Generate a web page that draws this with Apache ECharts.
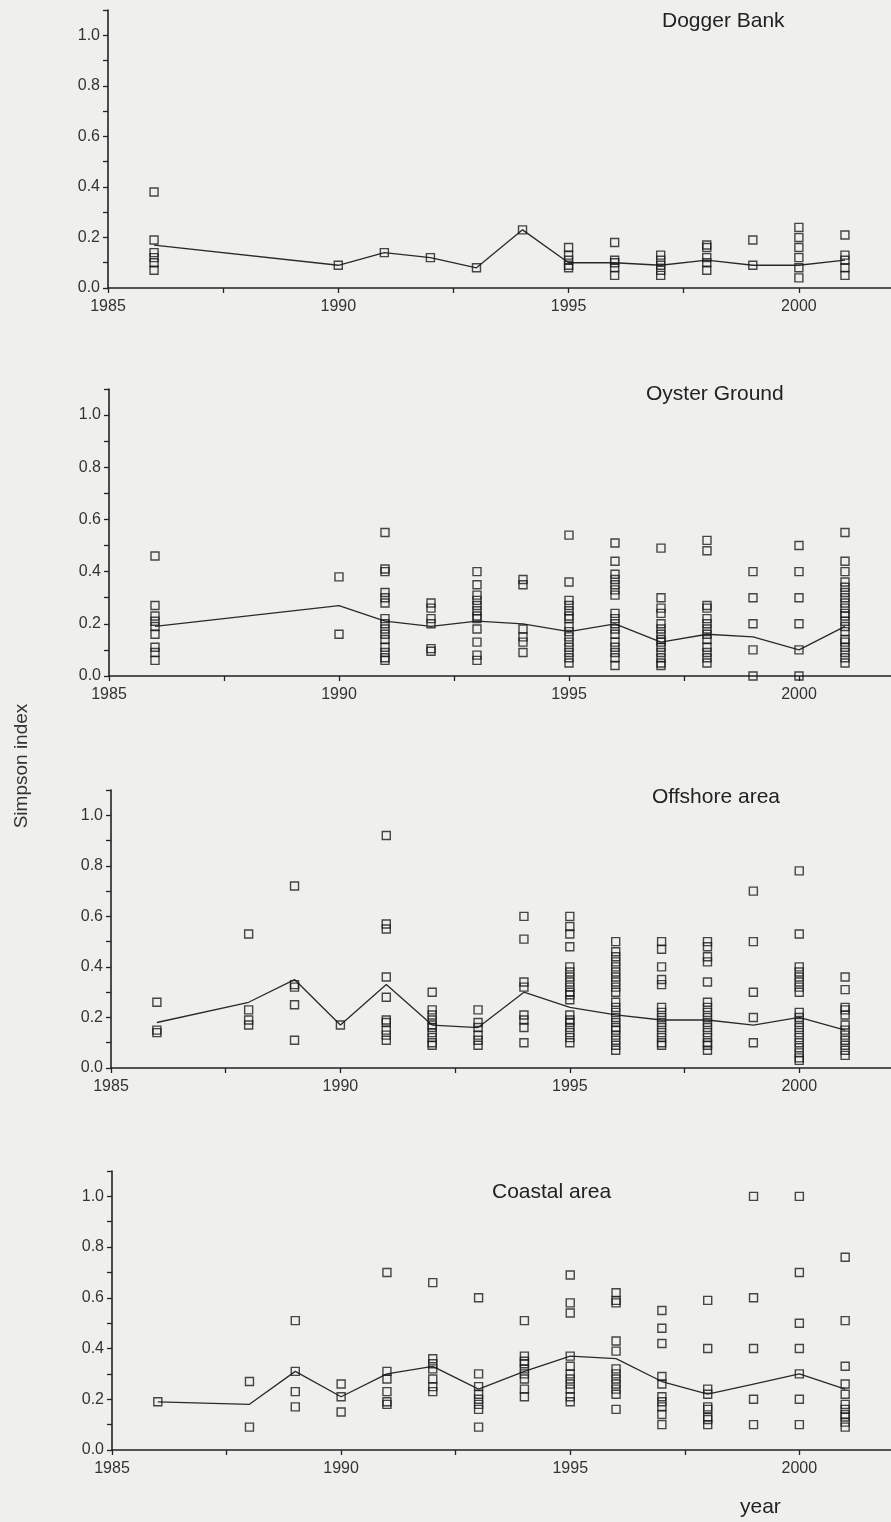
<!DOCTYPE html>
<html>
<head>
<meta charset="utf-8">
<script src="https://cdn.jsdelivr.net/npm/echarts@6/dist/echarts.min.js"></script>
<style>
html,body{margin:0;padding:0;background:#efefed;}
#chart{width:891px;height:1522px;}
</style>
</head>
<body>
<div id="chart"></div>
<script>
// ---------- DATA ----------
const panelTitles = ['Dogger Bank', 'Oyster Ground', 'Offshore area', 'Coastal area'];
const xTickLabels = ['1985', '1990', '1995', '2000'];
const yTickLabels = ['0.0', '0.2', '0.4', '0.6', '0.8', '1.0'];

const doggerYears = [1986, 1990, 1991, 1992, 1993, 1994, 1995, 1996, 1997, 1998, 1999, 2000, 2001];
const doggerPoints = [
  [0.38, 0.19, 0.14, 0.12, 0.10, 0.07],
  [0.09], [0.14], [0.12], [0.08], [0.23],
  [0.16, 0.13, 0.11, 0.09, 0.08],
  [0.18, 0.11, 0.10, 0.08, 0.05],
  [0.13, 0.11, 0.09, 0.07, 0.05],
  [0.17, 0.16, 0.12, 0.10, 0.07],
  [0.19, 0.09],
  [0.24, 0.20, 0.16, 0.12, 0.08, 0.04],
  [0.21, 0.13, 0.11, 0.08, 0.05]
];
const doggerMean = [0.17, 0.09, 0.14, 0.12, 0.08, 0.23, 0.10, 0.10, 0.09, 0.11, 0.09, 0.09, 0.11];

const oysterYears = [1986, 1990, 1991, 1992, 1993, 1994, 1995, 1996, 1997, 1998, 1999, 2000, 2001];
const oysterPoints = [
  [0.46, 0.27, 0.23, 0.21, 0.19, 0.16, 0.11, 0.09, 0.06],
  [0.38, 0.16],
  [0.55, 0.41, 0.40, 0.32, 0.30, 0.28, 0.22, 0.20, 0.18, 0.16, 0.14, 0.11, 0.09, 0.07, 0.06],
  [0.28, 0.26, 0.22, 0.20, 0.105, 0.095],
  [0.40, 0.35, 0.31, 0.29, 0.27, 0.25, 0.23, 0.22, 0.18, 0.13, 0.08, 0.06],
  [0.37, 0.35, 0.18, 0.15, 0.13, 0.09],
  [0.54, 0.36, 0.29, 0.27, 0.25, 0.23, 0.22, 0.19, 0.17, 0.15, 0.13, 0.11, 0.09, 0.07, 0.05],
  [0.51, 0.44, 0.39, 0.37, 0.35, 0.33, 0.31, 0.24, 0.22, 0.20, 0.18, 0.16, 0.13, 0.11, 0.09, 0.07, 0.04],
  [0.49, 0.30, 0.26, 0.24, 0.20, 0.18, 0.16, 0.14, 0.13, 0.11, 0.09, 0.07, 0.05, 0.04],
  [0.52, 0.48, 0.27, 0.26, 0.22, 0.20, 0.18, 0.16, 0.14, 0.11, 0.09, 0.07, 0.05],
  [0.40, 0.30, 0.20, 0.10, 0.00],
  [0.50, 0.40, 0.30, 0.20, 0.10, 0.00],
  [0.55, 0.44, 0.40, 0.36, 0.34, 0.32, 0.30, 0.28, 0.26, 0.24, 0.23, 0.21, 0.19, 0.17, 0.14, 0.13, 0.11, 0.09, 0.07, 0.05]
];
const oysterMean = [0.19, 0.27, 0.21, 0.19, 0.21, 0.20, 0.17, 0.20, 0.13, 0.16, 0.15, 0.10, 0.19];

const offshoreYears = [1986, 1988, 1989, 1990, 1991, 1992, 1993, 1994, 1995, 1996, 1997, 1998, 1999, 2000, 2001];
const offshorePoints = [
  [0.26, 0.15, 0.14],
  [0.53, 0.23, 0.19, 0.17],
  [0.72, 0.33, 0.32, 0.25, 0.11],
  [0.17],
  [0.92, 0.57, 0.55, 0.36, 0.28, 0.19, 0.18, 0.15, 0.13, 0.11],
  [0.30, 0.23, 0.21, 0.19, 0.17, 0.16, 0.14, 0.12, 0.10, 0.09],
  [0.23, 0.18, 0.16, 0.13, 0.11, 0.09],
  [0.60, 0.51, 0.34, 0.32, 0.21, 0.19, 0.16, 0.10],
  [0.60, 0.56, 0.53, 0.48, 0.40, 0.38, 0.36, 0.34, 0.32, 0.30, 0.29, 0.27, 0.21, 0.19, 0.18, 0.16, 0.14, 0.12, 0.10],
  [0.50, 0.46, 0.44, 0.42, 0.40, 0.38, 0.36, 0.34, 0.32, 0.30, 0.26, 0.24, 0.22, 0.20, 0.18, 0.16, 0.15, 0.13, 0.11, 0.09, 0.07],
  [0.50, 0.47, 0.40, 0.35, 0.33, 0.24, 0.22, 0.20, 0.18, 0.16, 0.14, 0.12, 0.10, 0.09],
  [0.50, 0.48, 0.44, 0.42, 0.34, 0.26, 0.24, 0.22, 0.20, 0.18, 0.16, 0.14, 0.12, 0.10, 0.09, 0.07],
  [0.70, 0.50, 0.30, 0.20, 0.10],
  [0.78, 0.53, 0.40, 0.38, 0.36, 0.34, 0.32, 0.30, 0.22, 0.20, 0.18, 0.16, 0.14, 0.12, 0.10, 0.08, 0.06, 0.04, 0.03],
  [0.36, 0.31, 0.24, 0.23, 0.21, 0.17, 0.15, 0.13, 0.11, 0.09, 0.07, 0.05]
];
const offshoreMean = [0.18, 0.26, 0.35, 0.17, 0.33, 0.17, 0.16, 0.30, 0.24, 0.21, 0.19, 0.19, 0.17, 0.20, 0.15];

const coastalYears = [1986, 1988, 1989, 1990, 1991, 1992, 1993, 1994, 1995, 1996, 1997, 1998, 1999, 2000, 2001];
const coastalPoints = [
  [0.19],
  [0.27, 0.09],
  [0.51, 0.31, 0.23, 0.17],
  [0.26, 0.21, 0.15],
  [0.70, 0.31, 0.28, 0.23, 0.19, 0.18],
  [0.66, 0.36, 0.34, 0.32, 0.28, 0.25, 0.23],
  [0.60, 0.30, 0.25, 0.22, 0.20, 0.18, 0.16, 0.09],
  [0.51, 0.37, 0.35, 0.34, 0.32, 0.30, 0.28, 0.24, 0.21],
  [0.69, 0.58, 0.54, 0.37, 0.33, 0.30, 0.28, 0.26, 0.24, 0.21, 0.19],
  [0.62, 0.59, 0.58, 0.43, 0.39, 0.32, 0.30, 0.28, 0.26, 0.24, 0.22, 0.16],
  [0.55, 0.48, 0.42, 0.29, 0.26, 0.21, 0.19, 0.17, 0.14, 0.10],
  [0.59, 0.40, 0.24, 0.22, 0.17, 0.16, 0.13, 0.12, 0.10],
  [1.00, 0.60, 0.40, 0.20, 0.10],
  [1.00, 0.70, 0.50, 0.40, 0.30, 0.20, 0.10],
  [0.76, 0.51, 0.33, 0.26, 0.22, 0.18, 0.16, 0.14, 0.13, 0.11, 0.09]
];
const coastalMean = [0.19, 0.18, 0.31, 0.21, 0.30, 0.33, 0.24, 0.31, 0.37, 0.36, 0.27, 0.22, 0.26, 0.30, 0.24];

// ---------- LAYOUT / STYLE ----------
const FONT = '"Liberation Sans", Arial, Helvetica, sans-serif';
const AXIS_COLOR = '#222';
const TEXT_COLOR = '#333';

const panels = [
  { years: doggerYears, points: doggerPoints, mean: doggerMean, grid: { left: 108, top: 10, height: 278 }, title: { left: 662, top: 11 } },
  { years: oysterYears, points: oysterPoints, mean: oysterMean, grid: { left: 109, top: 389, height: 287 }, title: { left: 646, top: 384 } },
  { years: offshoreYears, points: offshorePoints, mean: offshoreMean, grid: { left: 111, top: 790, height: 278 }, title: { left: 652, top: 787 } },
  { years: coastalYears, points: coastalPoints, mean: coastalMean, grid: { left: 112, top: 1171, height: 279 }, title: { left: 492, top: 1182 } }
];

const grids = [], xAxes = [], yAxes = [], series = [], titles = [];

panels.forEach((p, i) => {
  grids.push({ left: p.grid.left, right: 0, top: p.grid.top, height: p.grid.height, containLabel: false });
  xAxes.push({
    type: 'value', gridIndex: i, min: 1985, max: 2002, interval: 2.5,
    axisLine: { show: true, onZero: false, lineStyle: { color: AXIS_COLOR, width: 1.6 } },
    axisTick: { show: true, inside: false, length: 5, lineStyle: { color: AXIS_COLOR, width: 1.3 } },
    axisLabel: {
      show: true, margin: 11, color: TEXT_COLOR, fontSize: 16, fontFamily: FONT,
      showMaxLabel: false,
      formatter: v => { const s = String(Math.round(v)); return (Math.abs(v - Math.round(v)) < 1e-6 && xTickLabels.indexOf(s) >= 0) ? s : ''; }
    },
    splitLine: { show: false }
  });
  yAxes.push({
    type: 'value', gridIndex: i, min: 0, max: 1.1, interval: 0.1,
    axisLine: { show: true, onZero: false, lineStyle: { color: AXIS_COLOR, width: 1.6 } },
    axisTick: { show: true, inside: false, length: 5, lineStyle: { color: AXIS_COLOR, width: 1.3 } },
    axisLabel: {
      show: true, margin: 8, color: TEXT_COLOR, fontSize: 16, fontFamily: FONT,
      formatter: v => { const s = v.toFixed(1); return yTickLabels.indexOf(s) >= 0 ? s : ''; }
    },
    splitLine: { show: false }
  });
  const scatterData = [];
  p.years.forEach((yr, k) => p.points[k].forEach(v => scatterData.push([yr, v])));
  series.push({
    type: 'scatter', xAxisIndex: i, yAxisIndex: i, data: scatterData,
    symbol: 'rect', symbolSize: 8,
    itemStyle: { color: 'rgba(0,0,0,0)', borderColor: '#1a1a1a', borderWidth: 1.4 },
    silent: true, z: 3
  });
  series.push({
    type: 'line', xAxisIndex: i, yAxisIndex: i,
    data: p.years.map((yr, k) => [yr, p.mean[k]]),
    symbol: 'none', lineStyle: { color: '#2a2a2a', width: 1.3 }, silent: true, z: 2
  });
  titles.push({
    text: panelTitles[i], left: p.title.left, top: p.title.top,
    textStyle: { fontFamily: FONT, fontSize: 21, fontWeight: 'normal', color: '#222' }, padding: 0
  });
});

const chart = echarts.init(document.getElementById('chart'), null, { renderer: 'canvas' });
chart.setOption({
  backgroundColor: '#efefed',
  animation: false,
  title: titles,
  grid: grids,
  xAxis: xAxes,
  yAxis: yAxes,
  series: series,
  graphic: [
    { type: 'text', x: 22, y: 766, rotation: Math.PI / 2,
      style: { text: 'Simpson index', font: '19px ' + FONT, fill: '#333', textAlign: 'center', textVerticalAlign: 'middle' } },
    { type: 'text', left: 740, top: 1497,
      style: { text: 'year', font: '21px ' + FONT, fill: '#222' } }
  ]
});
</script>
</body>
</html>
